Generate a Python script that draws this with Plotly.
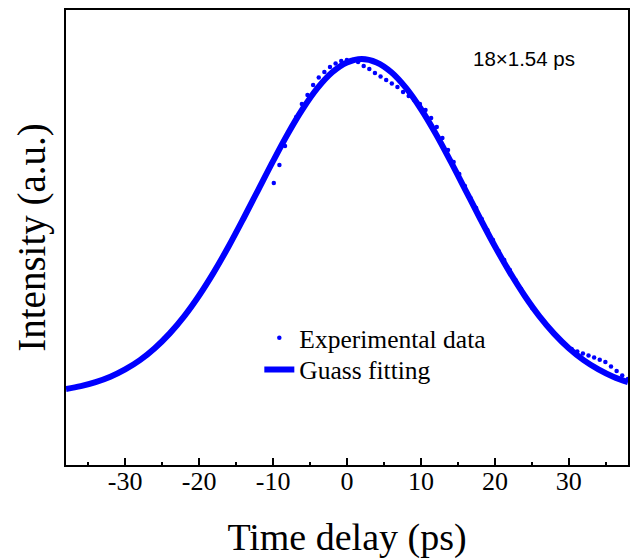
import plotly.graph_objects as go

# Experimental data (time delay in ps, intensity a.u.)
exp_x = [-9.9, -9.14, -8.38, -7.62, -6.86, -6.10, -5.34, -4.58, -3.82, -3.06,
         -2.30, -1.54, -0.78, -0.02, 0.74, 1.50, 2.26, 3.02, 3.78, 4.54,
         5.30, 6.06, 6.82, 7.58, 8.34, 9.10, 9.86, 10.62, 11.38, 12.14,
         12.90, 13.66, 14.42, 15.18, 15.94, 16.70, 17.46, 18.22, 18.98, 19.74,
         20.50, 21.26, 22.02, 22.78, 23.54, 24.30, 25.06, 25.82, 26.58, 27.34,
         28.10, 28.86, 29.62, 30.38, 31.14, 31.90, 32.66, 33.42, 34.18, 34.94,
         35.70, 36.46, 37.22, 37.98]
exp_y = [282, 300, 319, 336, 348, 361, 370, 380, 387.5, 393,
         398, 401.5, 404, 405, 405, 403, 399, 396, 392, 388.5,
         385, 381.5, 378, 373, 369, 365, 361, 355, 347, 338,
         327, 315, 303, 291, 279, 267, 257, 246, 235, 225,
         214, 205, 195, 185, 176, 166, 157, 150.5, 143.5, 137,
         130.5, 125, 119.5, 116, 113.5, 111.5, 109.5, 107.5, 105.3, 103,
         98.5, 94, 89.5, 86]

# Gauss fitting curve
fit_x = [-38, -36, -34, -32, -30, -28, -26, -24, -22, -20,
         -18, -16, -14, -12, -10, -8, -6, -4, -2, 0,
         2, 4, 6, 8, 10, 12, 14, 16, 18, 20,
         22, 24, 26, 28, 30, 32, 34, 36, 38]
fit_y = [76.0, 78.9, 82.9, 88.3, 95.6, 104.9, 116.8, 131.4, 148.9, 169.5,
         192.9, 218.7, 246.5, 275.2, 303.9, 331.3, 356.0, 376.9, 392.8, 402.6,
         406.0, 402.6, 392.8, 376.9, 356.0, 331.3, 303.9, 275.2, 246.5, 218.7,
         192.9, 169.5, 148.9, 131.4, 116.8, 104.9, 95.6, 88.3, 82.9]

x_tickvals = [-30, -20, -10, 0, 10, 20, 30]
x_ticktext = ["-30", "-20", "-10", "0", "10", "20", "30"]

serif = "Times New Roman, Liberation Serif, serif"
blue = "#0000FF"

fig = go.Figure()
fig.add_trace(go.Scatter(
    x=exp_x, y=exp_y, mode="markers", name="Experimental data",
    marker=dict(color=blue, size=4.5), legend="legend",
))
fig.add_trace(go.Scatter(
    x=fit_x, y=fit_y, mode="lines", name="Guass fitting",
    line=dict(color=blue, width=6, shape="spline"), legend="legend2",
))

fig.add_annotation(
    x=0.8156, y=0.8945, xref="paper", yref="paper",
    xanchor="center", yanchor="middle",
    text="18×1.54 ps", showarrow=False,
    font=dict(family="Liberation Sans, Arial, sans-serif", size=20.5, color="black"),
)

leg_font = dict(family=serif, size=25.5, color="black")

fig.update_layout(
    width=632, height=559,
    margin=dict(l=66, r=2, t=10, b=94),
    paper_bgcolor="white", plot_bgcolor="white",
    showlegend=True,
    legend=dict(
        x=0.344, y=0.279, xanchor="left", yanchor="middle",
        bgcolor="rgba(0,0,0,0)", font=leg_font, itemsizing="trace",
    ),
    legend2=dict(
        x=0.344, y=0.209, xanchor="left", yanchor="middle",
        bgcolor="rgba(0,0,0,0)", font=leg_font, itemsizing="trace",
    ),
    xaxis=dict(
        range=[-38, 38],
        tickvals=x_tickvals, ticktext=x_ticktext,
        ticks="inside", ticklen=7, tickwidth=2, tickcolor="black",
        minor=dict(dtick=5, tick0=0, ticks="inside", ticklen=3, tickwidth=2, tickcolor="black"),
        showline=True, linecolor="black", linewidth=2, mirror=True,
        showgrid=False, zeroline=False,
        tickfont=dict(family=serif, size=26, color="black"),
        ticklabelstandoff=-8,
        title=dict(text="Time delay (ps)", font=dict(family=serif, size=38, color="black"), standoff=32),
    ),
    yaxis=dict(
        range=[0, 455],
        showticklabels=False, ticks="",
        showline=True, linecolor="black", linewidth=2, mirror=True,
        showgrid=False, zeroline=False,
        title=dict(text="Intensity (a.u.)", font=dict(family=serif, size=39, color="black"), standoff=6),
    ),
)

fig.write_html(
    "out.html",
    config={"displayModeBar": False},
    post_script="document.body.style.margin='0';document.body.style.overflow='hidden';",
)
